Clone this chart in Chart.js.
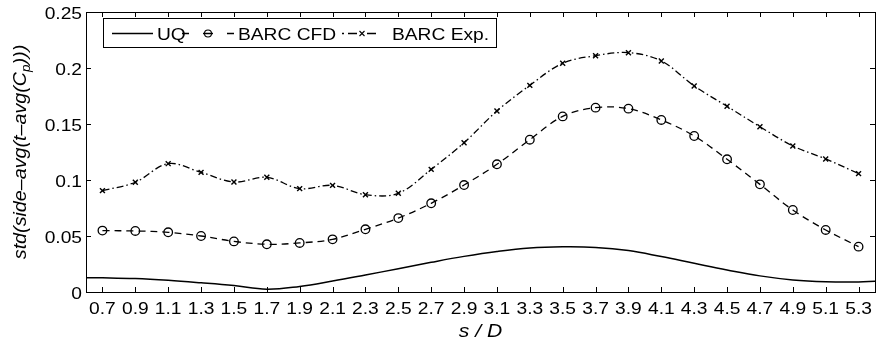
<!DOCTYPE html>
<html>
<head>
<meta charset="utf-8">
<title>std of side-averaged Cp along s/D</title>
<script src="https://cdn.jsdelivr.net/npm/chart.js@4.4.1/dist/chart.umd.min.js"></script>
<style>
  html, body { margin: 0; padding: 0; background: #fff; }
  #chart { display: block; }
</style>
</head>
<body>
<canvas id="chart" width="883" height="341"></canvas>
<script>
// --- data ---
const xTicks = [0.7, 0.9, 1.1, 1.3, 1.5, 1.7, 1.9, 2.1, 2.3, 2.5, 2.7, 2.9,
                3.1, 3.3, 3.5, 3.7, 3.9, 4.1, 4.3, 4.5, 4.7, 4.9, 5.1, 5.3];
const yTicks = [0, 0.05, 0.1, 0.15, 0.2, 0.25];
const yTickLabels = ['0', '0.05', '0.1', '0.15', '0.2', '0.25'];

// measurement stations (s/D) for the BARC sets
const sD = [0.7, 0.9, 1.1, 1.3, 1.5, 1.7, 1.9, 2.1, 2.3, 2.5, 2.7, 2.9,
            3.1, 3.3, 3.5, 3.7, 3.9, 4.1, 4.3, 4.5, 4.7, 4.9, 5.1, 5.3];
const barcCfd = [0.0548, 0.0545, 0.0533, 0.0500, 0.0452, 0.0426, 0.0438, 0.0470,
                 0.0560, 0.0660, 0.0792, 0.0955, 0.1140, 0.1360, 0.1568, 0.1646,
                 0.1637, 0.1536, 0.1393, 0.1185, 0.0961, 0.0732, 0.0554, 0.0405];
const barcExp = [0.0905, 0.0980, 0.1146, 0.1068, 0.0982, 0.1024, 0.0923, 0.0952,
                 0.0869, 0.0881, 0.1095, 0.1333, 0.1616, 0.1845, 0.2042, 0.2110,
                 0.2137, 0.2063, 0.1840, 0.1658, 0.1476, 0.1304, 0.1188, 0.1057];

// UQ curve
const uqX = [0.6, 0.7, 0.9, 1.1, 1.3, 1.5, 1.7, 1.9, 2.1, 2.3, 2.5, 2.7, 2.9,
             3.1, 3.3, 3.5, 3.7, 3.9, 4.1, 4.3, 4.5, 4.7, 4.9, 5.1, 5.3, 5.4];
const uqY = [0.0128, 0.0127, 0.0120, 0.0104, 0.0082, 0.0057, 0.0025, 0.0050, 0.0098,
             0.0152, 0.0208, 0.0265, 0.0318, 0.0362, 0.0393, 0.0403, 0.0398, 0.0370,
             0.0316, 0.0256, 0.0197, 0.0144, 0.0108, 0.0092, 0.0090, 0.0096];

const FONT = '"Liberation Sans", Arial, sans-serif';
const STRETCH = 1.2; // glyphs are drawn a bit wide, like the original export

const toPoints = (xs, ys) => xs.map((x, i) => ({ x: x, y: ys[i] }));

// draw text scaled along its own direction
const wideText = (ctx, text, x, y, align) => {
    ctx.save();
    ctx.translate(x, y);
    ctx.scale(STRETCH, 1);
    ctx.textAlign = align;
    ctx.fillText(text, 0, 0);
    ctx.restore();
};

// --- frame, inward ticks, labels, legend ---
const framePlugin = {
    id: 'frame',
    afterDraw(chart) {
        const ctx = chart.ctx;
        const { left, right, top, bottom } = chart.chartArea;
        const xs = chart.scales.x;
        const ys = chart.scales.y;
        const tick = 5;

        ctx.save();
        ctx.strokeStyle = '#000';
        ctx.lineWidth = 1;
        ctx.setLineDash([]);

        // box
        ctx.strokeRect(Math.round(left) + 0.5, Math.round(top) + 0.5,
                       Math.round(right - left), Math.round(bottom - top));

        ctx.beginPath();
        xTicks.forEach(v => {
            const px = Math.round(xs.getPixelForValue(v)) + 0.5;
            ctx.moveTo(px, bottom); ctx.lineTo(px, bottom - tick);
            ctx.moveTo(px, top); ctx.lineTo(px, top + tick);
        });
        yTicks.forEach(v => {
            const py = Math.round(ys.getPixelForValue(v)) + 0.5;
            ctx.moveTo(left, py); ctx.lineTo(left + tick, py);
            ctx.moveTo(right, py); ctx.lineTo(right - tick, py);
        });
        ctx.stroke();

        // tick labels
        ctx.fillStyle = '#000';
        ctx.font = '16px ' + FONT;
        ctx.textBaseline = 'alphabetic';
        xTicks.forEach(v => {
            wideText(ctx, v.toFixed(1), xs.getPixelForValue(v), bottom + 22, 'center');
        });
        yTicks.forEach((v, i) => {
            wideText(ctx, yTickLabels[i], left - 4, ys.getPixelForValue(v) + 7.3, 'right');
        });

        // x title
        ctx.font = 'italic 17.6px ' + FONT;
        wideText(ctx, 's / D', (left + right) / 2, 337, 'center');

        // y title with subscript
        const main = 'std(side\u2013avg(t\u2013avg(C';
        const sub = 'p';
        const tail = ')))';
        ctx.save();
        ctx.translate(26, (top + bottom) / 2);
        ctx.rotate(-Math.PI / 2);
        ctx.scale(1.12, 1);
        ctx.font = 'italic 17.6px ' + FONT;
        const wMain = ctx.measureText(main).width;
        const wTail = ctx.measureText(tail).width;
        ctx.font = 'italic 12px ' + FONT;
        const wSub = ctx.measureText(sub).width;
        let cx = -(wMain + wSub + wTail) / 2;
        ctx.textAlign = 'left';
        ctx.font = 'italic 17.6px ' + FONT;
        ctx.fillText(main, cx, 0); cx += wMain;
        ctx.font = 'italic 12px ' + FONT;
        ctx.fillText(sub, cx, 4); cx += wSub;
        ctx.font = 'italic 17.6px ' + FONT;
        ctx.fillText(tail, cx, 0);
        ctx.restore();

        // legend
        const lx0 = 103.5, ly0 = 18.5, lx1 = 496.5, ly1 = 47.5;
        const ly = 33.5;
        ctx.fillStyle = '#fff';
        ctx.fillRect(lx0, ly0, lx1 - lx0, ly1 - ly0);
        ctx.strokeRect(lx0, ly0, lx1 - lx0, ly1 - ly0);

        ctx.lineWidth = 1.3;
        ctx.beginPath();
        ctx.moveTo(112, ly); ctx.lineTo(153, ly);
        ctx.moveTo(182, ly); ctx.lineTo(189, ly);
        ctx.moveTo(203, ly); ctx.lineTo(213, ly);
        ctx.moveTo(227, ly); ctx.lineTo(234, ly);
        ctx.moveTo(342, ly); ctx.lineTo(344, ly);
        ctx.moveTo(348, ly); ctx.lineTo(357, ly);
        ctx.moveTo(367, ly); ctx.lineTo(376, ly);
        ctx.stroke();

        ctx.lineWidth = 1.1;
        ctx.beginPath();
        ctx.arc(208, ly, 3.5, 0, Math.PI * 2);
        ctx.stroke();
        ctx.beginPath();
        ctx.moveTo(359.5, ly - 2.5); ctx.lineTo(364.5, ly + 2.5);
        ctx.moveTo(359.5, ly + 2.5); ctx.lineTo(364.5, ly - 2.5);
        ctx.stroke();

        ctx.fillStyle = '#000';
        ctx.font = '16px ' + FONT;
        wideText(ctx, 'UQ', 157, 39.5, 'left');
        wideText(ctx, 'BARC CFD', 238, 39.5, 'left');
        wideText(ctx, 'BARC Exp.', 392, 39.5, 'left');
        ctx.restore();
    }
};

const ctx = document.getElementById('chart').getContext('2d');
new Chart(ctx, {
    type: 'line',
    data: {
        datasets: [
            {
                label: 'UQ',
                data: toPoints(uqX, uqY),
                borderColor: '#000',
                borderWidth: 1.5,
                pointRadius: 0,
                tension: 0.4,
                fill: false
            },
            {
                label: 'BARC CFD',
                data: toPoints(sD, barcCfd),
                borderColor: '#000',
                borderWidth: 1.3,
                borderDash: [7, 5],
                pointStyle: 'circle',
                pointRadius: 4.3,
                pointBorderWidth: 1.3,
                pointBorderColor: '#000',
                pointBackgroundColor: 'rgba(0,0,0,0)',
                tension: 0.35,
                fill: false
            },
            {
                label: 'BARC Exp.',
                data: toPoints(sD, barcExp),
                borderColor: '#000',
                borderWidth: 1.3,
                borderDash: [7, 3, 1.5, 3],
                pointStyle: 'crossRot',
                pointRadius: 3.5,
                pointBorderWidth: 1.4,
                pointBorderColor: '#000',
                tension: 0.35,
                fill: false
            }
        ]
    },
    options: {
        responsive: false,
        animation: false,
        devicePixelRatio: 1,
        layout: { padding: { left: 0, right: 8, top: 12, bottom: 0 } },
        plugins: {
            legend: { display: false },
            tooltip: { enabled: false }
        },
        scales: {
            x: {
                type: 'linear',
                min: 0.6,
                max: 5.4,
                afterBuildTicks: (scale) => { scale.ticks = xTicks.map(v => ({ value: v })); },
                afterFit: (scale) => { scale.height = 49; },
                ticks: { display: false },
                grid: { display: false },
                border: { display: false }
            },
            y: {
                min: 0,
                max: 0.25,
                afterBuildTicks: (scale) => { scale.ticks = yTicks.map(v => ({ value: v })); },
                afterFit: (scale) => { scale.width = 86; },
                ticks: { display: false },
                grid: { display: false },
                border: { display: false }
            }
        }
    },
    plugins: [framePlugin]
});
</script>
</body>
</html>
